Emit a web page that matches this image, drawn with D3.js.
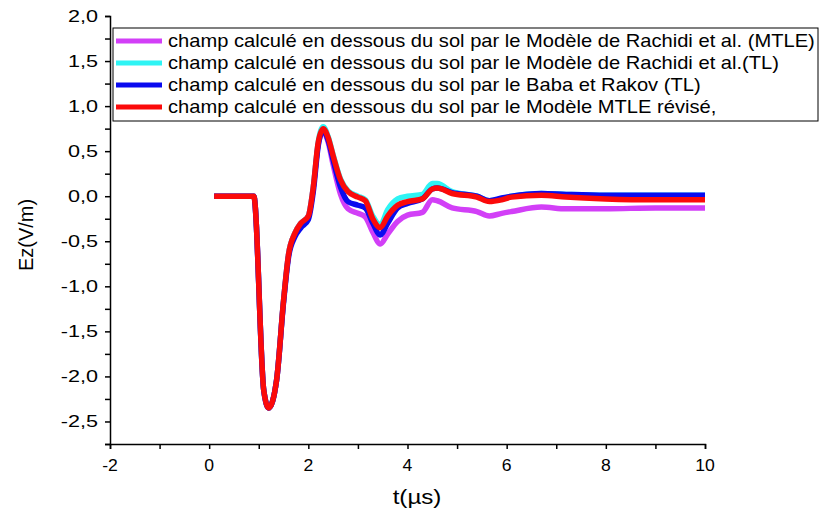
<!DOCTYPE html>
<html>
<head>
<meta charset="utf-8">
<script src="https://cdn.jsdelivr.net/npm/d3@7"></script>
<style>
  body { margin: 0; background: #fff; }
  svg { display: block; font-family: 'Liberation Sans', Arial, sans-serif; }
</style>
</head>
<body>
<svg id="graph" width="820" height="514"></svg>
<script>
// time axis (µs)
const time = [0.1, 0.9, 1.1, 1.2, 1.36, 1.5, 1.6, 1.73, 1.85, 2.0, 2.1, 2.2, 2.3, 2.4, 2.5, 2.65, 2.8, 3.0, 3.15, 3.3, 3.45, 3.6, 3.8, 4.0, 4.3, 4.5, 4.6, 4.9, 5.4, 5.65, 5.9, 6.1, 6.7, 7.2, 8, 9, 10]

const mtleRachidi = [0, 0, -2.15, -2.35, -2.04, -1.16, -0.65, -0.41, -0.3, -0.22, 0.1, 0.58, 0.72, 0.6, 0.35, 0.02, -0.14, -0.19, -0.23, -0.4, -0.53, -0.42, -0.28, -0.21, -0.18, -0.04, -0.05, -0.13, -0.17, -0.22, -0.19, -0.17, -0.12, -0.14, -0.14, -0.13, -0.13]
const tlRachidi = [0, 0, -2.15, -2.35, -2.04, -1.16, -0.65, -0.41, -0.3, -0.22, 0.1, 0.6, 0.77, 0.66, 0.46, 0.19, 0.06, 0.0, -0.04, -0.22, -0.32, -0.15, -0.03, 0.0, 0.02, 0.14, 0.14, 0.05, 0.0, -0.05, -0.03, 0.0, 0.03, 0.02, 0.01, 0.01, 0.01]
const babaRakov = [0, 0, -2.15, -2.35, -2.04, -1.18, -0.68, -0.45, -0.35, -0.26, 0.05, 0.56, 0.73, 0.62, 0.4, 0.1, -0.06, -0.1, -0.13, -0.3, -0.43, -0.3, -0.13, -0.08, -0.03, 0.08, 0.09, 0.04, 0.0, -0.05, -0.02, 0.0, 0.03, 0.02, 0.01, 0.01, 0.01]
const mtleRevise = [0, 0, -2.15, -2.35, -2.04, -1.16, -0.65, -0.41, -0.3, -0.22, 0.1, 0.6, 0.75, 0.65, 0.45, 0.18, 0.05, -0.01, -0.05, -0.25, -0.35, -0.22, -0.1, -0.06, -0.03, 0.08, 0.09, 0.03, -0.01, -0.06, -0.04, -0.01, 0.01, -0.01, -0.03, -0.04, -0.04]

const seriesNames = [
  'champ calculé en dessous du sol par le Modèle de Rachidi et al. (MTLE)',
  'champ calculé en dessous du sol par le Modèle de Rachidi et al.(TL)',
  'champ calculé en dessous du sol par le Baba et Rakov (TL)',
  'champ calculé en dessous du sol par le Modèle MTLE révisé,'
]
const seriesColors = ['#d23ff7', '#2ef4f4', '#0a0aef', '#fb0a0a']
const seriesValues = [mtleRachidi, tlRachidi, babaRakov, mtleRevise]

const xTicks = [-2, 0, 2, 4, 6, 8, 10]
const yTicks = [-2.5, -2, -1.5, -1, -0.5, 0, 0.5, 1, 1.5, 2]

const svg = d3.select('#graph')

const x = d3.scaleLinear().domain([-2, 10]).range([110, 705])
const y = d3.scaleLinear().domain([-2.75, 2]).range([444, 16])
const fmt = d => d3.format('.1f')(d).replace('.', ',').replace('−', '-')

// y axis
const yAxis = svg.append('g').attr('transform', 'translate(110,0)')
yAxis.call(d3.axisLeft(y).tickValues(d3.range(-2.75, 2.01, 0.25)).tickSize(5).tickFormat(''))
yAxis.select('.domain').attr('stroke-width', 1.5)
yAxis.selectAll('.tick line').attr('stroke-width', 1.5)
yAxis.selectAll('.ylab')
  .data(yTicks)
  .enter()
  .append('text')
  .attr('transform', d => `translate(-12,${y(d)}) scale(1.35,1)`)
  .attr('dy', '0.35em')
  .attr('text-anchor', 'end')
  .style('font-size', '16px')
  .style('fill', '#000')
  .text(fmt)

// x axis
const xAxis = svg.append('g').attr('transform', 'translate(0,444)')
xAxis.call(d3.axisBottom(x).tickValues(d3.range(-2, 10.01, 1)).tickSize(5).tickFormat(''))
xAxis.select('.domain').attr('stroke-width', 1.5)
xAxis.selectAll('.tick line').attr('stroke-width', 1.5)
xAxis.selectAll('.xlab')
  .data(xTicks)
  .enter()
  .append('text')
  .attr('transform', d => `translate(${x(d)},27) scale(1.1,1)`)
  .attr('text-anchor', 'middle')
  .style('font-size', '16px')
  .style('fill', '#000')
  .text(d => d)

// axis titles
svg.append('text')
  .text('t(µs)')
  .attr('transform', 'translate(417,504) scale(1.15,1)')
  .attr('text-anchor', 'middle')
  .style('font-size', '21px')

svg.append('text')
  .text('Ez(V/m)')
  .attr('transform', 'translate(33,235) rotate(-90)')
  .attr('text-anchor', 'middle')
  .style('font-size', '20px')

// curves
const line = d3.line()
  .x(d => x(d[0]))
  .y(d => y(d[1]))
  .curve(d3.curveMonotoneX)

seriesValues.forEach((vals, i) => {
  svg.append('path')
    .datum(time.map((t, j) => [t, vals[j]]))
    .attr('d', line)
    .attr('fill', 'none')
    .attr('stroke', seriesColors[i])
    .attr('stroke-width', 5.5)
    .attr('stroke-linejoin', 'round')
})

// legend
const legend = svg.append('g')
legend.append('rect')
  .attr('x', 113)
  .attr('y', 28)
  .attr('width', 705)
  .attr('height', 93)
  .attr('fill', '#fff')
  .attr('stroke', '#000')
  .attr('stroke-width', 1)

const rowY = [41, 63, 85, 107]
seriesNames.forEach((name, i) => {
  legend.append('line')
    .attr('x1', 116)
    .attr('x2', 162)
    .attr('y1', rowY[i])
    .attr('y2', rowY[i])
    .attr('stroke', seriesColors[i])
    .attr('stroke-width', 5)
  legend.append('text')
    .attr('class', 'legtext')
    .attr('x', 168)
    .attr('y', rowY[i])
    .attr('dy', '0.35em')
    .style('font-size', '17.5px')
    .text(name)
})

// squeeze legend text to the width seen in the picture
const first = legend.select('.legtext').node()
const k = 647 / first.getComputedTextLength()
legend.selectAll('.legtext')
  .attr('transform', `translate(168,0) scale(${k},1) translate(-168,0)`)
</script>
</body>
</html>
